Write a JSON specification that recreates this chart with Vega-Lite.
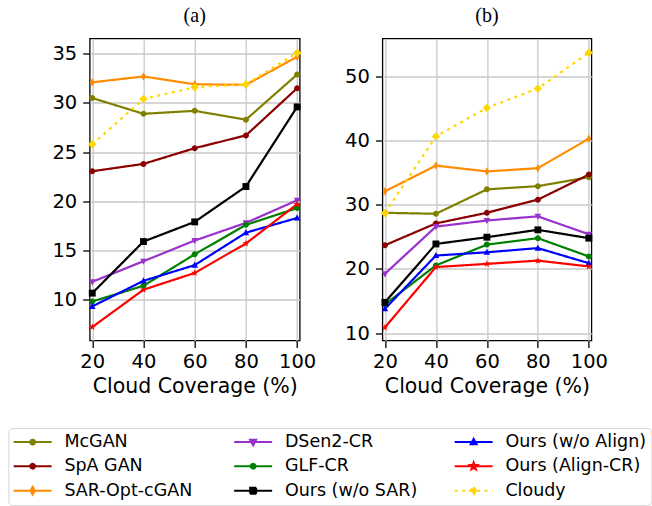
{
  "$schema": "https://vega.github.io/schema/vega-lite/v6.json",
  "padding": {"left": 6.7, "top": 4.5, "right": 5, "bottom": 2},
  "background": "white",
  "datasets": {
    "a": [
      {"s": "McGAN", "x": 20, "y": 30.5}, {"s": "McGAN", "x": 40, "y": 28.9}, {"s": "McGAN", "x": 60, "y": 29.2}, {"s": "McGAN", "x": 80, "y": 28.3}, {"s": "McGAN", "x": 100, "y": 32.9},
      {"s": "SpA GAN", "x": 20, "y": 23.05}, {"s": "SpA GAN", "x": 40, "y": 23.8}, {"s": "SpA GAN", "x": 60, "y": 25.4}, {"s": "SpA GAN", "x": 80, "y": 26.7}, {"s": "SpA GAN", "x": 100, "y": 31.5},
      {"s": "SAR-Opt-cGAN", "x": 20, "y": 32.1}, {"s": "SAR-Opt-cGAN", "x": 40, "y": 32.7}, {"s": "SAR-Opt-cGAN", "x": 60, "y": 31.9}, {"s": "SAR-Opt-cGAN", "x": 80, "y": 31.85}, {"s": "SAR-Opt-cGAN", "x": 100, "y": 34.7},
      {"s": "DSen2-CR", "x": 20, "y": 11.8}, {"s": "DSen2-CR", "x": 40, "y": 13.9}, {"s": "DSen2-CR", "x": 60, "y": 16.0}, {"s": "DSen2-CR", "x": 80, "y": 17.8}, {"s": "DSen2-CR", "x": 100, "y": 20.1},
      {"s": "GLF-CR", "x": 20, "y": 9.8}, {"s": "GLF-CR", "x": 40, "y": 11.4}, {"s": "GLF-CR", "x": 60, "y": 14.6}, {"s": "GLF-CR", "x": 80, "y": 17.6}, {"s": "GLF-CR", "x": 100, "y": 19.3},
      {"s": "Ours (w/o SAR)", "x": 20, "y": 10.65}, {"s": "Ours (w/o SAR)", "x": 40, "y": 15.9}, {"s": "Ours (w/o SAR)", "x": 60, "y": 17.9}, {"s": "Ours (w/o SAR)", "x": 80, "y": 21.5}, {"s": "Ours (w/o SAR)", "x": 100, "y": 29.6},
      {"s": "Ours (w/o Align)", "x": 20, "y": 9.3}, {"s": "Ours (w/o Align)", "x": 40, "y": 11.9}, {"s": "Ours (w/o Align)", "x": 60, "y": 13.5}, {"s": "Ours (w/o Align)", "x": 80, "y": 16.8}, {"s": "Ours (w/o Align)", "x": 100, "y": 18.3},
      {"s": "Ours (Align-CR)", "x": 20, "y": 7.2}, {"s": "Ours (Align-CR)", "x": 40, "y": 11.0}, {"s": "Ours (Align-CR)", "x": 60, "y": 12.7}, {"s": "Ours (Align-CR)", "x": 80, "y": 15.7}, {"s": "Ours (Align-CR)", "x": 100, "y": 19.7},
      {"s": "Cloudy", "x": 20, "y": 25.8}, {"s": "Cloudy", "x": 40, "y": 30.4}, {"s": "Cloudy", "x": 60, "y": 31.6}, {"s": "Cloudy", "x": 80, "y": 31.9}, {"s": "Cloudy", "x": 100, "y": 35.1}
    ],
    "b": [
      {"s": "McGAN", "x": 20, "y": 28.75}, {"s": "McGAN", "x": 40, "y": 28.6}, {"s": "McGAN", "x": 60, "y": 32.4}, {"s": "McGAN", "x": 80, "y": 32.9}, {"s": "McGAN", "x": 100, "y": 34.3},
      {"s": "SpA GAN", "x": 20, "y": 23.7}, {"s": "SpA GAN", "x": 40, "y": 27.1}, {"s": "SpA GAN", "x": 60, "y": 28.75}, {"s": "SpA GAN", "x": 80, "y": 30.8}, {"s": "SpA GAN", "x": 100, "y": 34.7},
      {"s": "SAR-Opt-cGAN", "x": 20, "y": 32.1}, {"s": "SAR-Opt-cGAN", "x": 40, "y": 36.1}, {"s": "SAR-Opt-cGAN", "x": 60, "y": 35.2}, {"s": "SAR-Opt-cGAN", "x": 80, "y": 35.7}, {"s": "SAR-Opt-cGAN", "x": 100, "y": 40.3},
      {"s": "DSen2-CR", "x": 20, "y": 19.25}, {"s": "DSen2-CR", "x": 40, "y": 26.6}, {"s": "DSen2-CR", "x": 60, "y": 27.55}, {"s": "DSen2-CR", "x": 80, "y": 28.2}, {"s": "DSen2-CR", "x": 100, "y": 25.4},
      {"s": "GLF-CR", "x": 20, "y": 14.5}, {"s": "GLF-CR", "x": 40, "y": 20.55}, {"s": "GLF-CR", "x": 60, "y": 23.8}, {"s": "GLF-CR", "x": 80, "y": 24.8}, {"s": "GLF-CR", "x": 100, "y": 21.95},
      {"s": "Ours (w/o SAR)", "x": 20, "y": 14.8}, {"s": "Ours (w/o SAR)", "x": 40, "y": 23.9}, {"s": "Ours (w/o SAR)", "x": 60, "y": 24.95}, {"s": "Ours (w/o SAR)", "x": 80, "y": 26.1}, {"s": "Ours (w/o SAR)", "x": 100, "y": 24.8},
      {"s": "Ours (w/o Align)", "x": 20, "y": 13.8}, {"s": "Ours (w/o Align)", "x": 40, "y": 22.1}, {"s": "Ours (w/o Align)", "x": 60, "y": 22.6}, {"s": "Ours (w/o Align)", "x": 80, "y": 23.25}, {"s": "Ours (w/o Align)", "x": 100, "y": 20.9},
      {"s": "Ours (Align-CR)", "x": 20, "y": 10.9}, {"s": "Ours (Align-CR)", "x": 40, "y": 20.3}, {"s": "Ours (Align-CR)", "x": 60, "y": 20.8}, {"s": "Ours (Align-CR)", "x": 80, "y": 21.3}, {"s": "Ours (Align-CR)", "x": 100, "y": 20.4},
      {"s": "Cloudy", "x": 20, "y": 28.7}, {"s": "Cloudy", "x": 40, "y": 40.65}, {"s": "Cloudy", "x": 60, "y": 45.1}, {"s": "Cloudy", "x": 80, "y": 48.1}, {"s": "Cloudy", "x": 100, "y": 53.7}
    ]
  },
  "spacing": 82.7,
  "bounds": "flush",
  "resolve": {"scale": {"x": "independent", "y": "independent", "color": "independent", "shape": "independent", "strokeDash": "independent", "stroke": "independent"}},
  "hconcat": [
    {
      "width": 210, "height": 302,
      "title": "(a)",
      "data": {"name": "a"},
      "resolve": {"scale": {"color": "independent", "shape": "independent", "strokeDash": "independent", "stroke": "independent"}, "legend": {"color": "independent", "shape": "independent", "strokeDash": "independent", "stroke": "independent"}},
      "layer": [
        {
          "mark": {"type": "line", "strokeWidth": 2.2},
          "encoding": {
            "x": {"field": "x", "type": "quantitative", "scale": {"domain": [19, 101], "nice": false, "zero": false}, "axis": {"values": [20, 40, 60, 80, 100], "title": "Cloud Coverage (%)"}},
            "y": {"field": "y", "type": "quantitative", "scale": {"domain": [5.83, 36.56], "nice": false, "zero": false}, "axis": {"values": [10, 15, 20, 25, 30, 35], "title": null}},
            "color": {"field": "s", "type": "nominal", "legend": null, "scale": {"domain": ["McGAN", "SpA GAN", "SAR-Opt-cGAN", "DSen2-CR", "GLF-CR", "Ours (w/o SAR)", "Ours (w/o Align)", "Ours (Align-CR)", "Cloudy"], "range": ["#808000", "#8b0000", "#ff8c00", "#9932cc", "#008000", "#000000", "#0000ff", "#ff0000", "#ffd700"]}},
            "strokeDash": {"field": "s", "type": "nominal", "legend": null, "scale": {"domain": ["McGAN", "SpA GAN", "SAR-Opt-cGAN", "DSen2-CR", "GLF-CR", "Ours (w/o SAR)", "Ours (w/o Align)", "Ours (Align-CR)", "Cloudy"], "range": [[1, 0], [1, 0], [1, 0], [1, 0], [1, 0], [1, 0], [1, 0], [1, 0], [3, 4.5]]}}
          }
        },
        {
          "mark": {"type": "point", "filled": true, "opacity": 1, "size": 36},
          "encoding": {
            "x": {"field": "x", "type": "quantitative"},
            "y": {"field": "y", "type": "quantitative"},
            "color": {"field": "s", "type": "nominal", "legend": null, "scale": {"domain": ["McGAN", "SpA GAN", "SAR-Opt-cGAN", "DSen2-CR", "GLF-CR", "Ours (w/o SAR)", "Ours (w/o Align)", "Ours (Align-CR)", "Cloudy"], "range": ["#808000", "#8b0000", "#ff8c00", "#9932cc", "#008000", "#000000", "#0000ff", "#ff0000", "#ffd700"]}},
            "shape": {
              "field": "s", "type": "nominal", "legend": null,
              "scale": {"domain": ["McGAN", "SpA GAN", "SAR-Opt-cGAN", "DSen2-CR", "GLF-CR", "Ours (w/o SAR)", "Ours (w/o Align)", "Ours (Align-CR)", "Cloudy"],
                "range": ["M1,0A1,1 0 1,1 -1,0A1,1 0 1,1 1,0Z", "M1,0A1,1 0 1,1 -1,0A1,1 0 1,1 1,0Z", "M0,-1.4L0.8,0L0,1.4L-0.8,0Z", "M0,1.2L1.1,-0.85H-1.1Z", "M1,0A1,1 0 1,1 -1,0A1,1 0 1,1 1,0Z", "M-1.15,-1.15H1.15V1.15H-1.15Z", "M0,-1.2L1.1,0.85H-1.1Z", "M0,-1.25L0.294,-0.405L1.189,-0.386L0.476,0.155L0.735,1.011L0,0.5L-0.735,1.011L-0.476,0.155L-1.189,-0.386L-0.294,-0.405Z", "M0,-1.4L1.4,0L0,1.4L-1.4,0Z"]}
            }
          }
        },
        {
          "transform": [{"filter": "datum.y > 1000"}],
          "mark": {"type": "point", "filled": true, "opacity": 1, "size": 36},
          "encoding": {
            "color": {
              "field": "s", "type": "nominal",
              "scale": {"domain": ["McGAN", "SpA GAN", "SAR-Opt-cGAN", "DSen2-CR", "GLF-CR", "Ours (w/o SAR)", "Ours (w/o Align)", "Ours (Align-CR)", "Cloudy"], "range": ["#808000", "#8b0000", "#ff8c00", "#9932cc", "#008000", "#000000", "#0000ff", "#ff0000", "#ffd700"]},
              "legend": {
                "title": null, "orient": "none", "legendX": -81.3, "legendY": 389.5, "columns": 3, "gridAlign": "all",
                "symbolSize": 36, "symbolStrokeWidth": 2, "symbolOpacity": 1,
                "labelFont": "DejaVu Sans", "labelFontSize": 17.5, "labelColor": "#000000", "labelOffset": 33.5, "labelLimit": 300,
                "rowPadding": 5.5, "columnPadding": 24.5, "padding": 5, "strokeColor": "#d6d6d6", "fillColor": "#ffffff", "cornerRadius": 4
              }
            },
            "stroke": {
              "field": "s", "type": "nominal",
              "scale": {"domain": ["McGAN", "SpA GAN", "SAR-Opt-cGAN", "DSen2-CR", "GLF-CR", "Ours (w/o SAR)", "Ours (w/o Align)", "Ours (Align-CR)", "Cloudy"], "range": ["#808000", "#8b0000", "#ff8c00", "#9932cc", "#008000", "#000000", "#0000ff", "#ff0000", "#ffd700"]}
            },
            "strokeDash": {
              "field": "s", "type": "nominal",
              "scale": {"domain": ["McGAN", "SpA GAN", "SAR-Opt-cGAN", "DSen2-CR", "GLF-CR", "Ours (w/o SAR)", "Ours (w/o Align)", "Ours (Align-CR)", "Cloudy"], "range": [[1, 0], [1, 0], [1, 0], [1, 0], [1, 0], [1, 0], [1, 0], [1, 0], [3, 4.5]]}
            },
            "shape": {
              "field": "s", "type": "nominal",
              "scale": {"domain": ["McGAN", "SpA GAN", "SAR-Opt-cGAN", "DSen2-CR", "GLF-CR", "Ours (w/o SAR)", "Ours (w/o Align)", "Ours (Align-CR)", "Cloudy"],
                "range": [
                  "M-2.83,0H9.83M4.3,0A0.8,0.8 0 1,1 2.7,0A0.8,0.8 0 1,1 4.3,0Z",
                  "M-2.83,0H9.83M4.3,0A0.8,0.8 0 1,1 2.7,0A0.8,0.8 0 1,1 4.3,0Z",
                  "M-2.83,0H9.83M3.5,-1.3L4.2,0L3.5,1.3L2.8,0Z",
                  "M-2.83,0H9.83M3.5,1.1L4.5,-0.75H2.5Z",
                  "M-2.83,0H9.83M4.3,0A0.8,0.8 0 1,1 2.7,0A0.8,0.8 0 1,1 4.3,0Z",
                  "M-2.83,0H9.83M2.5,-1H4.5V1H2.5Z",
                  "M-2.83,0H9.83M3.5,-1.1L4.5,0.75H2.5Z",
                  "M-2.83,0H9.83M3.5,-1.25L3.794,-0.405L4.689,-0.386L3.976,0.155L4.235,1.011L3.5,0.5L2.765,1.011L3.024,0.155L2.311,-0.386L3.206,-0.405Z",
                  "M-2.83,0H9.83M3.5,-1.2L4.7,0L3.5,1.2L2.3,0Z"
                ]}
            }
          }
        }
      ]
    },
    {
      "width": 209, "height": 302,
      "title": "(b)",
      "data": {"name": "b"},
      "layer": [
        {
          "mark": {"type": "line", "strokeWidth": 2.2},
          "encoding": {
            "x": {"field": "x", "type": "quantitative", "scale": {"domain": [19, 101], "nice": false, "zero": false}, "axis": {"values": [20, 40, 60, 80, 100], "title": "Cloud Coverage (%)"}},
            "y": {"field": "y", "type": "quantitative", "scale": {"domain": [8.86, 55.9], "nice": false, "zero": false}, "axis": {"values": [10, 20, 30, 40, 50], "title": null}},
            "color": {"field": "s", "type": "nominal", "legend": null, "scale": {"domain": ["McGAN", "SpA GAN", "SAR-Opt-cGAN", "DSen2-CR", "GLF-CR", "Ours (w/o SAR)", "Ours (w/o Align)", "Ours (Align-CR)", "Cloudy"], "range": ["#808000", "#8b0000", "#ff8c00", "#9932cc", "#008000", "#000000", "#0000ff", "#ff0000", "#ffd700"]}},
            "strokeDash": {"field": "s", "type": "nominal", "legend": null, "scale": {"domain": ["McGAN", "SpA GAN", "SAR-Opt-cGAN", "DSen2-CR", "GLF-CR", "Ours (w/o SAR)", "Ours (w/o Align)", "Ours (Align-CR)", "Cloudy"], "range": [[1, 0], [1, 0], [1, 0], [1, 0], [1, 0], [1, 0], [1, 0], [1, 0], [3, 4.5]]}}
          }
        },
        {
          "mark": {"type": "point", "filled": true, "opacity": 1, "size": 36},
          "encoding": {
            "x": {"field": "x", "type": "quantitative"},
            "y": {"field": "y", "type": "quantitative"},
            "color": {"field": "s", "type": "nominal", "legend": null},
            "shape": {
              "field": "s", "type": "nominal", "legend": null,
              "scale": {"domain": ["McGAN", "SpA GAN", "SAR-Opt-cGAN", "DSen2-CR", "GLF-CR", "Ours (w/o SAR)", "Ours (w/o Align)", "Ours (Align-CR)", "Cloudy"],
                "range": ["M1,0A1,1 0 1,1 -1,0A1,1 0 1,1 1,0Z", "M1,0A1,1 0 1,1 -1,0A1,1 0 1,1 1,0Z", "M0,-1.4L0.8,0L0,1.4L-0.8,0Z", "M0,1.2L1.1,-0.85H-1.1Z", "M1,0A1,1 0 1,1 -1,0A1,1 0 1,1 1,0Z", "M-1.15,-1.15H1.15V1.15H-1.15Z", "M0,-1.2L1.1,0.85H-1.1Z", "M0,-1.25L0.294,-0.405L1.189,-0.386L0.476,0.155L0.735,1.011L0,0.5L-0.735,1.011L-0.476,0.155L-1.189,-0.386L-0.294,-0.405Z", "M0,-1.4L1.4,0L0,1.4L-1.4,0Z"]}
            }
          }
        }
      ]
    }
  ],
  "config": {
    "view": {"stroke": "#000000", "strokeWidth": 1.3},
    "title": {"font": "Liberation Serif", "fontSize": 20, "fontWeight": "normal", "color": "#000000", "offset": 12.5, "baseline": "alphabetic", "anchor": "middle"},
    "axis": {
      "domain": false, "grid": true, "gridColor": "#c8c8c8", "gridWidth": 1.3,
      "ticks": true, "tickColor": "#000000", "tickSize": 7, "tickWidth": 1.3,
      "labelFont": "DejaVu Sans", "labelFontSize": 19.5, "labelColor": "#000000",
      "titleFont": "DejaVu Sans", "titleFontSize": 20.5, "titleFontWeight": "normal", "titleColor": "#000000"
    },
    "axisX": {"labelPadding": 5, "titlePadding": 6},
    "axisY": {"labelPadding": 6}
  }
}
